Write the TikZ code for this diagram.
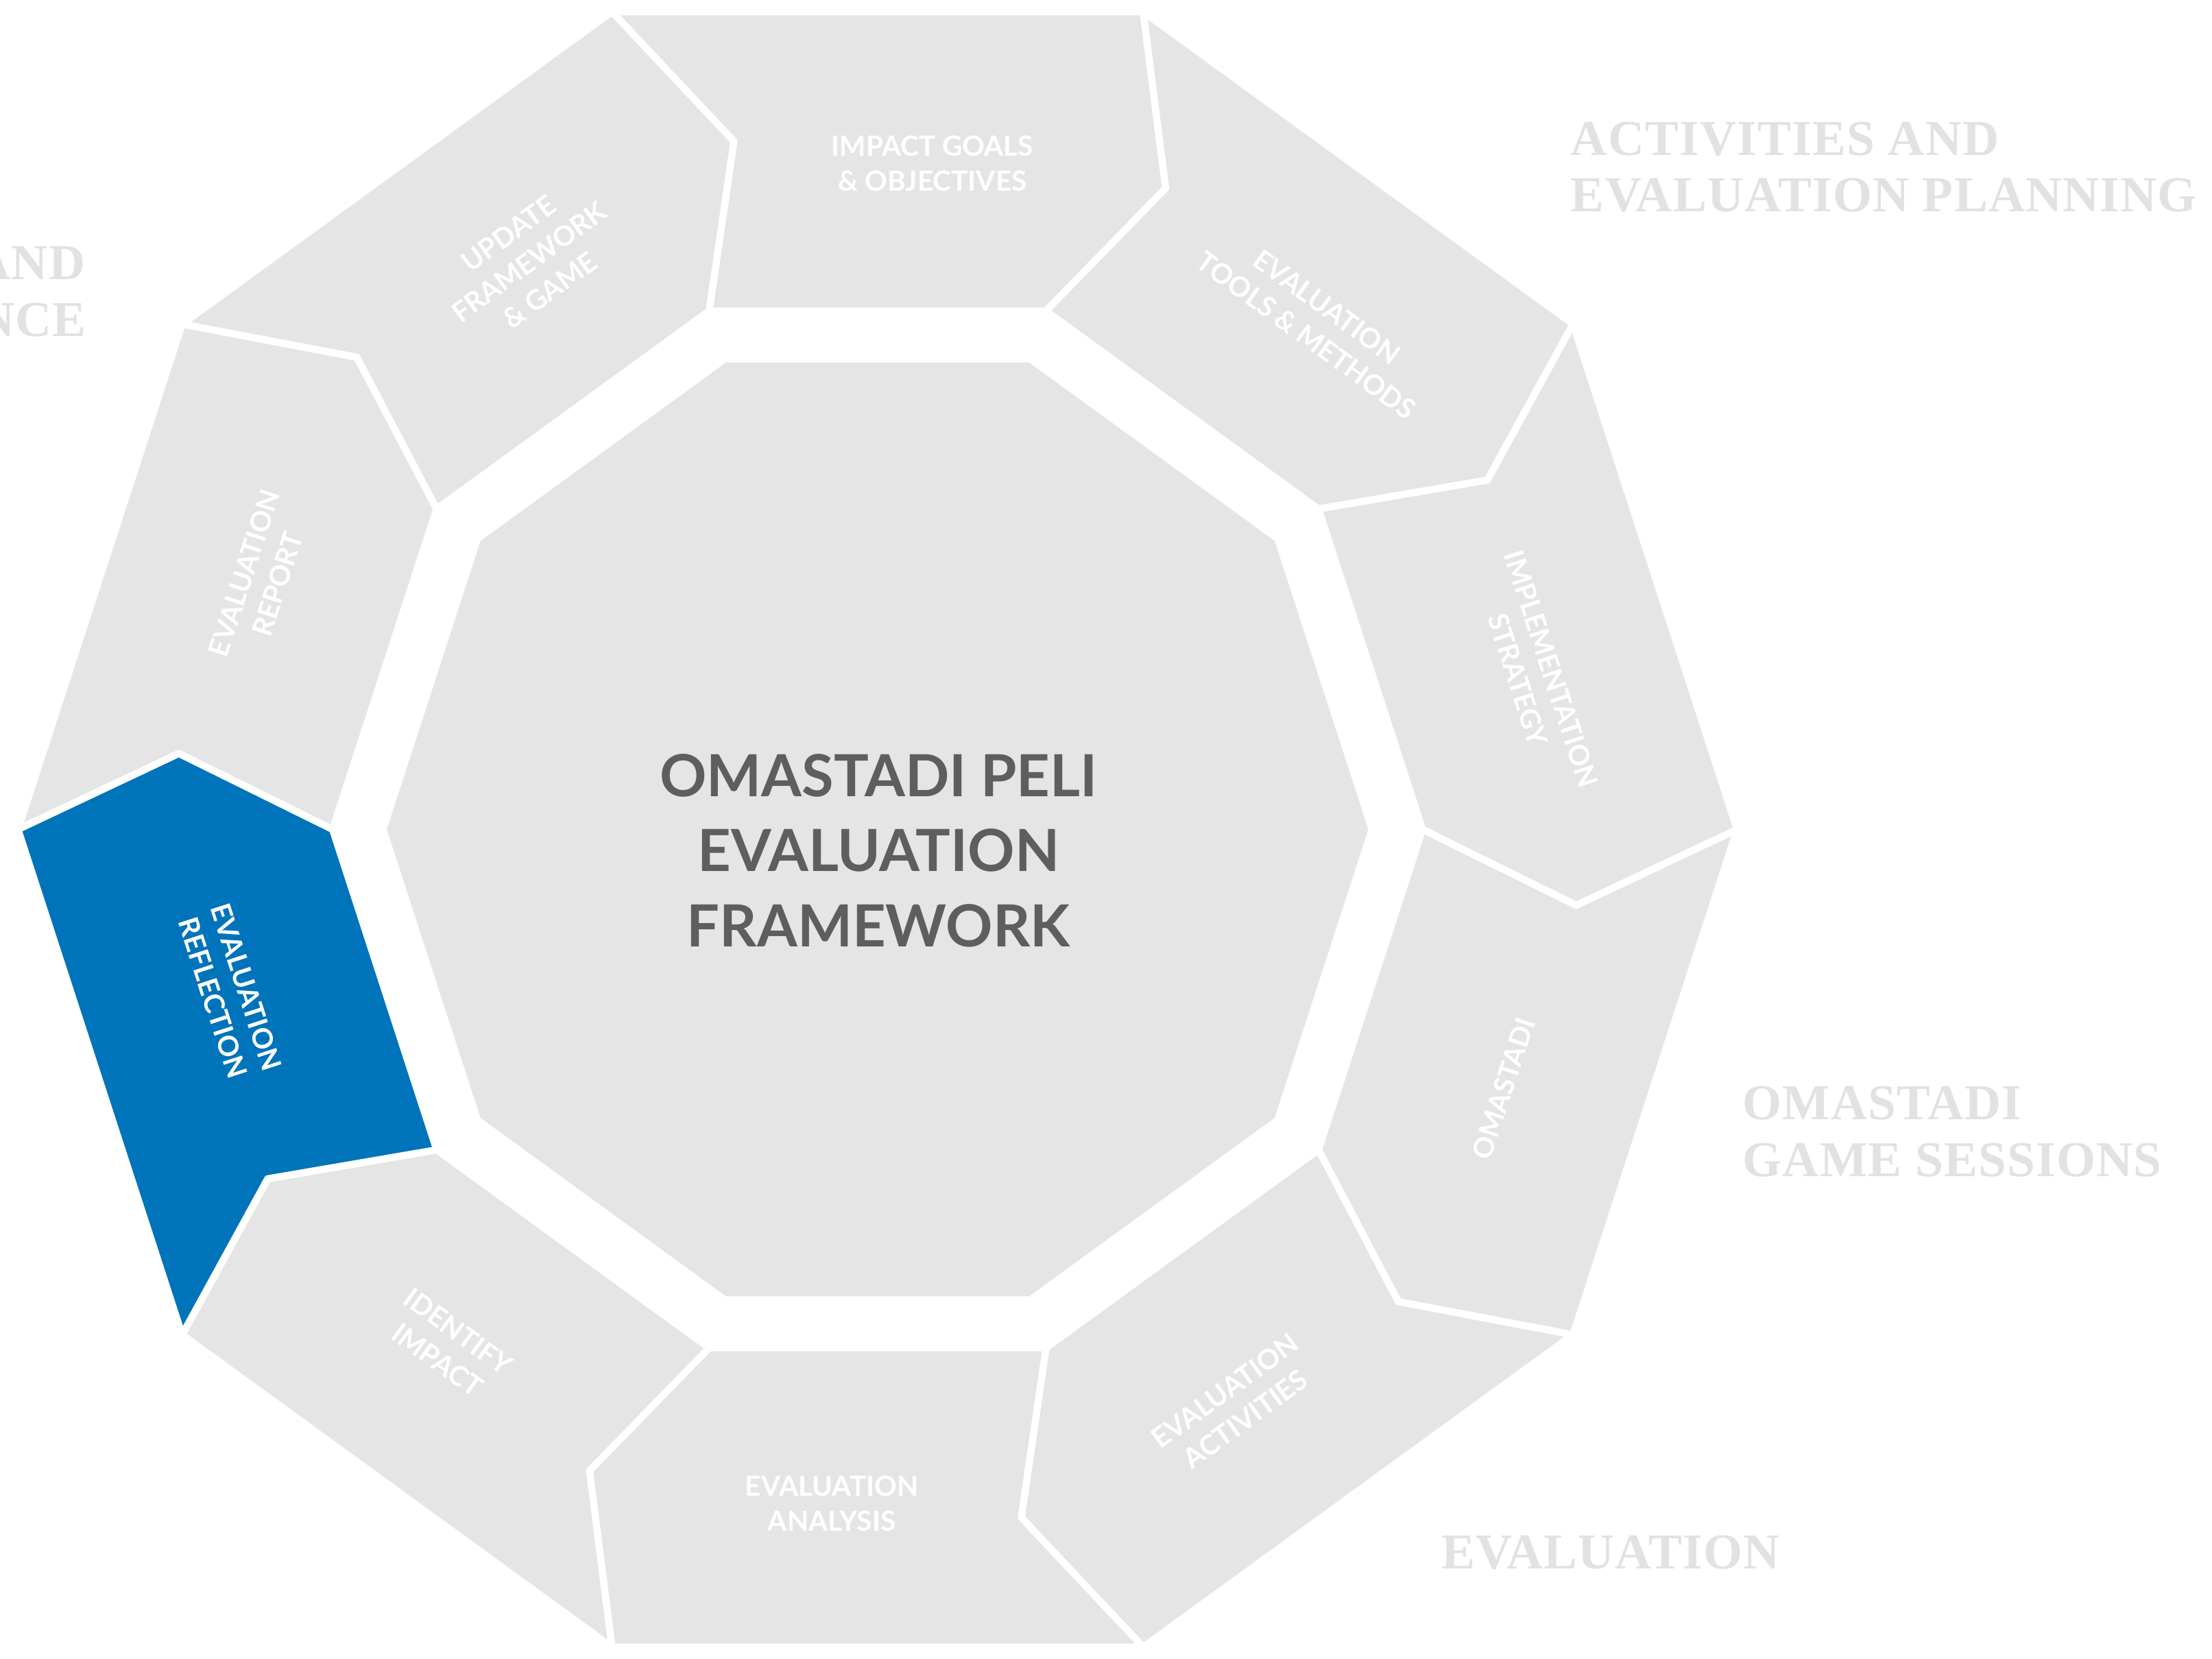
\documentclass[tikz,border=0pt]{standalone}
\usepackage{fontspec}
\newfontfamily\labelfont{Lato}
\newfontfamily\headfont[LetterSpace=1.7]{Liberation Serif}
\definecolor{seggray}{RGB}{229,229,229}
\definecolor{segblue}{RGB}{0,116,186}
\definecolor{headgray}{RGB}{226,226,226}
\definecolor{centergray}{RGB}{94,94,94}
\tikzset{
  seg/.style={fill=seggray, draw=white, line width=5pt, line join=round},
  segsel/.style={seg, fill=segblue},
  seglabel/.style={text=white, font=\labelfont\bfseries\fontsize{19.6}{24.7}\selectfont, align=center, inner sep=0pt},
  heading/.style={text=headgray, font=\headfont\bfseries\fontsize{35.5}{40}\selectfont, inner sep=0pt},
  titletext/.style={text=centergray, font=\labelfont\bfseries\fontsize{41}{53}\selectfont, align=center, inner sep=0pt}
}
\begin{document}
\begin{tikzpicture}[x=1pt,y=1pt]
  \clip (-619.3,-585.3) rectangle (941.7,585.2);
  \useasboundingbox (-619.3,-585.3) rectangle (941.7,585.2);
  \fill[white] (-619.3,-585.3) rectangle (941.7,585.2);
  % central decagon
  \fill[seggray] (0:346.3) \foreach \a in {36,72,...,324}{ -- (\a:346.3)} -- cycle;
  % ring segments
  \foreach \p in {90,54,18,-18,-54,-90,-126,162,126}{
    \draw[seg] ({\p+18}:606.6) -- ({\p-18}:606.6) -- ({\p-24.2}:496) -- ({\p-18}:384.6)
      -- ({\p+18}:384.6) -- ({\p+11.8}:496) -- cycle;
  }
  \draw[segsel] (216:606.6) -- (180:606.6) -- (173.8:496) -- (180:384.6)
    -- (216:384.6) -- (209.8:496) -- cycle;
  \begin{scope}[shift={(3.2,-2.8)}]
    % segment labels
    \node[seglabel, rotate=0]   (impact)     at (85.7:474)   {IMPACT GOALS\\\& OBJECTIVES};
    \node[seglabel, rotate=-36] (tools)      at (49.7:474)   {EVALUATION\\TOOLS \& METHODS};
    \node[seglabel, rotate=-72] (impl)       at (13.7:474)   {IMPLEMENTATION\\STRATEGY};
    \node[seglabel, rotate=72]  (omastadi)   at (-22.3:474)  {OMASTADI};
    \node[seglabel, rotate=36]  (activities) at (-58.3:474)  {EVALUATION\\ACTIVITIES};
    \node[seglabel, rotate=0]   (analysis)   at (-94.3:474)  {EVALUATION\\ANALYSIS};
    \node[seglabel, rotate=-36] (identify)   at (-130.3:474) {IDENTIFY\\IMPACT};
    \node[seglabel, rotate=-72] (reflection) at (193.7:474)  {EVALUATION\\REFLECTION};
    \node[seglabel, rotate=72]  (report)     at (157.7:474)  {EVALUATION\\REPORT};
    \node[seglabel, rotate=36]  (update)     at (121.7:474)  {UPDATE\\FRAMEWORK\\\& GAME};
    % central title
    \node[titletext] (title) at (-2.5,-12) {OMASTADI PELI\\EVALUATION\\FRAMEWORK};
    % section headings
    \node[heading, anchor=base west] (hplanA) at (485.8,478.6) {ACTIVITIES AND};
    \node[heading, anchor=base west] (hplanB) at (485.8,438.5) {EVALUATION PLANNING};
    \node[heading, anchor=base west] (hgameA) at (607.1,-202) {OMASTADI};
    \node[heading, anchor=base west] (hgameB) at (607.1,-242) {GAME SESSIONS};
    \node[heading, anchor=base west] (heval)  at (394.5,-519) {EVALUATION};
    \node[heading, anchor=base east] (hleftA) at (-562.2,391) {AND};
    \node[heading, anchor=base east] (hleftB) at (-561.5,350.5) {NCE};
  \end{scope}
\end{tikzpicture}
\end{document}
